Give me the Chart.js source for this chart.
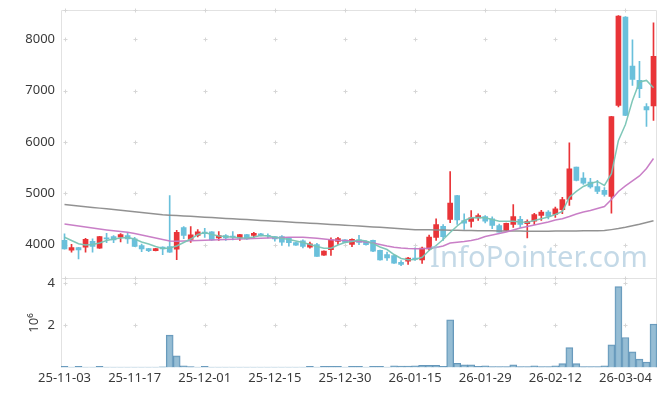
<!DOCTYPE html>
<html>
<head>
<meta charset="utf-8">
<script src="https://cdn.jsdelivr.net/npm/chart.js@4"></script>
<style>
html, body { margin: 0; padding: 0; background: #fff; }
#wrap { width: 665px; height: 396px; }
</style>
</head>
<body>
<div id="wrap"><canvas id="stockChart"></canvas></div>
<script>
const dates = [
    '25-11-03','25-11-04','25-11-05','25-11-06','25-11-07','25-11-10','25-11-11','25-11-12','25-11-13','25-11-14',
    '25-11-17','25-11-18','25-11-19','25-11-20','25-11-21','25-11-24','25-11-25','25-11-26','25-11-27','25-11-28',
    '25-12-01','25-12-02','25-12-03','25-12-04','25-12-05','25-12-08','25-12-09','25-12-10','25-12-11','25-12-12',
    '25-12-15','25-12-16','25-12-17','25-12-18','25-12-19','25-12-22','25-12-23','25-12-24','25-12-26','25-12-29',
    '25-12-30','26-01-02','26-01-05','26-01-06','26-01-07','26-01-08','26-01-09','26-01-12','26-01-13','26-01-14',
    '26-01-15','26-01-16','26-01-19','26-01-20','26-01-21','26-01-22','26-01-23','26-01-26','26-01-27','26-01-28',
    '26-01-29','26-01-30','26-02-02','26-02-03','26-02-04','26-02-05','26-02-06','26-02-09','26-02-10','26-02-11',
    '26-02-12','26-02-13','26-02-19','26-02-20','26-02-23','26-02-24','26-02-25','26-02-26','26-02-27','26-03-03',
    '26-03-04','26-03-05','26-03-06','26-03-09','26-03-10'
];

const opens = [
    4080, 3890, 3940, 3950, 4060, 3930, 4130, 4155, 4145, 4175,
    4110, 3980, 3920, 3880, 3950, 3960, 3910, 4330, 4100, 4175,
    4240, 4245, 4130, 4175, 4165, 4130, 4195, 4175, 4210, 4180,
    4155, 4155, 4125, 4040, 4070, 3950, 4000, 3790, 3900, 4060,
    4090, 4000, 4090, 4060, 4080, 3885, 3805, 3785, 3655, 3675,
    3735, 3700, 3915, 4140, 4355, 4490, 4955, 4468, 4450, 4520,
    4545, 4500, 4370, 4275, 4390, 4490, 4405, 4455, 4565, 4630,
    4585, 4680, 4880, 5510, 5295, 5215, 5130, 5055, 4935, 6710,
    8430, 7475, 7200, 6690, 6700
];
const highs = [
    4210, 4005, 3945, 4120, 4110, 4160, 4220, 4175, 4215, 4220,
    4140, 4010, 3925, 3925, 3955, 4955, 4275, 4350, 4350, 4290,
    4315, 4250, 4250, 4195, 4250, 4200, 4200, 4235, 4220, 4210,
    4160, 4175, 4130, 4045, 4090, 4045, 4025, 3875, 4130, 4140,
    4095, 4110, 4180, 4070, 4085, 3890, 3850, 3790, 3685, 3750,
    3935, 3950, 4185, 4500, 4390, 5420, 4960, 4600, 4660, 4600,
    4565, 4540, 4400, 4420, 4780, 4550, 4480, 4610, 4665, 4660,
    4730, 4920, 5980, 5510, 5400, 5290, 5250, 5110, 6500, 8460,
    8440, 7990, 7570, 6745, 8320
];
const lows = [
    3910, 3850, 3720, 3850, 3850, 3925, 4035, 4035, 4050, 4020,
    3960, 3860, 3860, 3875, 3800, 3845, 3705, 4115, 4040, 4150,
    4140, 4080, 4080, 4080, 4090, 4080, 4100, 4140, 4165, 4130,
    4065, 3980, 3970, 3980, 3935, 3930, 3770, 3785, 3785, 4000,
    4035, 3960, 3995, 3985, 3860, 3695, 3690, 3630, 3590, 3610,
    3690, 3630, 3885, 4080, 4080, 4425, 4390, 4295, 4340, 4470,
    4420, 4310, 4240, 4270, 4335, 4335, 4130, 4390, 4470, 4500,
    4530, 4600, 4760, 5240, 5170, 5100, 4990, 4940, 4610, 6680,
    6510, 7100, 6860, 6300, 6420
];
const closes = [
    3915, 3940, 3895, 4100, 3965, 4155, 4110, 4090, 4195, 4110,
    3965, 3915, 3880, 3920, 3915, 3850, 4235, 4175, 4190, 4245,
    4210, 4090, 4175, 4130, 4150, 4195, 4110, 4220, 4170, 4170,
    4110, 4045, 4035, 3985, 3965, 4015, 3770, 3870, 4090, 4115,
    4040, 4100, 4040, 3995, 3870, 3700, 3740, 3635, 3610, 3735,
    3715, 3930, 4145, 4390, 4155, 4805, 4480, 4415, 4520, 4565,
    4455, 4370, 4240, 4415, 4545, 4390, 4450, 4585, 4630, 4545,
    4695, 4875, 5475, 5250, 5195, 5120, 5035, 4975, 6495, 8450,
    6515, 7215, 7035, 6625, 7665
];

// volume, in millions of shares
const volumes = [
    0.05, 0.02, 0.05, 0.02, 0.02, 0.05, 0.02, 0.02, 0.02, 0.02,
    0.02, 0.02, 0.02, 0.02, 0.03, 1.53, 0.55, 0.08, 0.04, 0.02,
    0.05, 0.02, 0.02, 0.02, 0.02, 0.02, 0.02, 0.02, 0.02, 0.02,
    0.02, 0.02, 0.02, 0.02, 0.02, 0.05, 0.02, 0.05, 0.05, 0.05,
    0.02, 0.05, 0.05, 0.02, 0.05, 0.05, 0.02, 0.08, 0.07, 0.07,
    0.08, 0.10, 0.10, 0.10, 0.05, 2.26, 0.20, 0.13, 0.13, 0.05,
    0.08, 0.04, 0.04, 0.04, 0.13, 0.04, 0.04, 0.08, 0.04, 0.04,
    0.08, 0.18, 0.94, 0.18, 0.04, 0.04, 0.04, 0.08, 1.07, 3.83,
    1.42, 0.74, 0.40, 0.26, 2.06
];

const ma5 = [
    4142, 4078, 4014, 3990, 4000, 4029, 4078, 4107, 4127, 4137,
    4107, 4049, 4010, 3961, 3922, 3932, 3971, 4039, 4107, 4195,
    4234, 4195, 4166, 4156, 4142, 4130, 4127, 4146, 4175, 4166,
    4142, 4123, 4098, 4068, 4039, 4000, 3961, 3928, 3928, 3990,
    4039, 4058, 4088, 4068, 4020, 3951, 3902, 3805, 3727, 3702,
    3707, 3752, 3883, 3980, 4098, 4234, 4361, 4468, 4521, 4527,
    4521, 4488, 4454, 4454, 4454, 4439, 4435, 4468, 4501, 4536,
    4585, 4644, 4922, 5034, 5131, 5190, 5229, 5151, 5379, 6028,
    6340, 6808, 7169, 7198, 7056
];
const ma20 = [
    4400, 4380, 4361, 4341, 4322, 4302, 4283, 4267, 4254, 4240,
    4215, 4185, 4156, 4127, 4098, 4068, 4064, 4068, 4074, 4078,
    4082, 4088, 4094, 4098, 4103, 4107, 4113, 4117, 4121, 4127,
    4131, 4137, 4140, 4142, 4140, 4131, 4123, 4107, 4094, 4084,
    4078, 4068, 4058, 4049, 4029, 4000, 3971, 3947, 3932, 3922,
    3916, 3918, 3928, 3941, 3971, 4029, 4045, 4058, 4078, 4107,
    4156, 4185, 4215, 4244, 4283, 4322, 4351, 4380, 4410, 4439,
    4478, 4501, 4546, 4595, 4634, 4663, 4702, 4741, 4878, 5034,
    5141, 5238, 5336, 5482, 5677
];
const ma120 = [
    4780, 4766, 4752, 4737, 4723, 4709, 4695, 4680, 4666, 4652,
    4638, 4623, 4609, 4595, 4580, 4572, 4564, 4556, 4549, 4541,
    4533, 4525, 4517, 4509, 4501, 4494, 4486, 4478, 4470, 4462,
    4454, 4446, 4439, 4431, 4423, 4415, 4407, 4399, 4391, 4384,
    4376, 4368, 4360, 4351, 4342, 4334, 4325, 4316, 4307, 4299,
    4290, 4288, 4286, 4284, 4281, 4279, 4277, 4275, 4272, 4270,
    4268, 4266, 4264, 4263, 4262, 4261, 4260, 4260, 4260, 4260,
    4261, 4262, 4263, 4264, 4266, 4268, 4270, 4273, 4290, 4310,
    4335, 4365, 4395, 4430, 4462
];

const PRICE_TICKS = [4000, 5000, 6000, 7000, 8000];
const VOLUME_TICKS = [2, 4];

const UP_COLOR = 'rgb(233, 52, 56)';
const DOWN_COLOR = 'rgb(106, 192, 219)';
const MA5_COLOR = 'rgba(120, 196, 180, 0.95)';
const MA20_COLOR = 'rgba(198, 120, 196, 0.95)';
const MA120_COLOR = 'rgba(140, 140, 140, 0.95)';
const VOLUME_FILL = 'rgba(132, 178, 204, 0.85)';
const VOLUME_BORDER = 'rgba(84, 140, 178, 0.9)';
const FRAME_COLOR = '#e2e2e2';
const CROSS_COLOR = '#d6d6d6';
const TEXT_COLOR = '#3a3a3a';
const FONT_FAMILY = "'Noto Sans', 'Liberation Sans', sans-serif";

function candleColors() {
    return closes.map((c, i) => c >= opens[i] ? UP_COLOR : DOWN_COLOR);
}

function createLine(label, data, color) {
    return {
        type: 'line',
        label,
        data,
        yAxisID: 'y',
        borderColor: color,
        borderWidth: 1.5,
        pointRadius: 0,
        tension: 0,
        fill: false,
        order: 0
    };
}

function createCandleDataSets() {
    var colors = candleColors();
    var wicks = dates.map((d, i) => [lows[i], highs[i]]);
    var bodies = dates.map((d, i) => [opens[i], closes[i]]);
    return [
        {
            type: 'bar',
            label: 'body',
            data: bodies,
            yAxisID: 'y',
            backgroundColor: colors,
            barThickness: 5,
            grouped: false,
            order: 1
        },
        {
            type: 'bar',
            label: 'wick',
            data: wicks,
            yAxisID: 'y',
            backgroundColor: colors,
            barThickness: 1,
            grouped: false,
            order: 2
        }
    ];
}

function createVolumeDataSet() {
    return {
        type: 'bar',
        label: 'volume',
        data: volumes,
        yAxisID: 'v',
        backgroundColor: VOLUME_FILL,
        borderColor: VOLUME_BORDER,
        borderWidth: 1,
        barPercentage: 1,
        categoryPercentage: 1,
        grouped: false,
        order: 3
    };
}

function fixVerticalAxis(axis) {
    axis.width = 61;
    axis.paddingTop = 0;
    axis.paddingBottom = 0;
}

const panelDecor = {
    id: 'panelDecor',
    beforeDatasetsDraw(chart) {
        const {ctx, chartArea: a, scales} = chart;
        ctx.save();
        ctx.strokeStyle = FRAME_COLOR;
        ctx.lineWidth = 1;
        ctx.beginPath();
        ctx.moveTo(a.left + 0.5, a.bottom);
        ctx.lineTo(a.left + 0.5, a.top + 0.5);
        ctx.lineTo(a.right - 0.5, a.top + 0.5);
        ctx.lineTo(a.right - 0.5, a.bottom);
        var sep = Math.round(scales.y.bottom) + 0.5;
        ctx.moveTo(a.left, sep);
        ctx.lineTo(a.right, sep);
        ctx.stroke();

        var xs = [];
        dates.forEach((d, i) => { if (i % 10 === 0) xs.push(Math.round(scales.x.getPixelForValue(i)) + 0.5); });
        var ys = [a.top, scales.y.bottom];
        PRICE_TICKS.forEach(v => ys.push(scales.y.getPixelForValue(v)));
        VOLUME_TICKS.forEach(v => ys.push(scales.v.getPixelForValue(v)));
        ctx.strokeStyle = CROSS_COLOR;
        ctx.beginPath();
        xs.forEach(x => {
            ys.forEach(yv => {
                var y = Math.round(yv) + 0.5;
                ctx.moveTo(x - 2, y);
                ctx.lineTo(x + 2, y);
                ctx.moveTo(x, y - 2);
                ctx.lineTo(x, y + 2);
            });
        });
        ctx.stroke();
        ctx.restore();
    },
    afterDatasetsDraw(chart) {
        const ctx = chart.ctx;
        const text = 'InfoPointer.com';
        ctx.save();
        ctx.font = '30px ' + FONT_FAMILY;
        var size = 30 * 218 / ctx.measureText(text).width;
        ctx.font = size.toFixed(1) + 'px ' + FONT_FAMILY;
        ctx.fillStyle = 'rgba(165, 196, 218, 0.65)';
        ctx.textBaseline = 'alphabetic';
        ctx.fillText(text, 430, 267);
        ctx.restore();
    }
};

var ctx = document.getElementById('stockChart').getContext('2d');
new Chart(ctx, {
    type: 'bar',
    data: {
        labels: dates,
        datasets: [
            createLine('MA5', ma5, MA5_COLOR),
            createLine('MA20', ma20, MA20_COLOR),
            createLine('MA120', ma120, MA120_COLOR),
            ...createCandleDataSets(),
            createVolumeDataSet()
        ]
    },
    options: {
        responsive: true,
        maintainAspectRatio: false,
        animation: false,
        layout: {
            padding: { top: 10, right: 8, bottom: 0, left: 0 }
        },
        plugins: {
            legend: { display: false },
            tooltip: { enabled: false }
        },
        scales: {
            x: {
                type: 'category',
                offset: true,
                grid: { display: false, drawTicks: false },
                border: { display: false },
                ticks: {
                    autoSkip: false,
                    maxRotation: 0,
                    padding: 3,
                    color: TEXT_COLOR,
                    font: { family: FONT_FAMILY, size: 13 },
                    callback: (val, idx) => idx % 10 === 0 ? dates[idx] : ''
                },
                afterFit(axis) {
                    axis.height = 28.5;
                    axis.paddingLeft = 0;
                    axis.paddingRight = 0;
                }
            },
            y: {
                type: 'linear',
                position: 'left',
                stack: 'panels',
                stackWeight: 268,
                weight: 1,
                min: 3340,
                max: 8570,
                grid: { display: false, drawTicks: false },
                border: { display: false },
                ticks: {
                    padding: 6,
                    color: TEXT_COLOR,
                    font: { family: FONT_FAMILY, size: 13 },
                    callback: v => String(v)
                },
                afterBuildTicks(axis) { axis.ticks = PRICE_TICKS.map(v => ({ value: v })); },
                afterFit: fixVerticalAxis
            },
            v: {
                type: 'linear',
                position: 'left',
                stack: 'panels',
                stackWeight: 89,
                weight: 0,
                min: 0,
                max: 4.22,
                grid: { display: false, drawTicks: false },
                border: { display: false },
                title: {
                    display: true,
                    text: '10⁶',
                    color: TEXT_COLOR,
                    padding: { top: 26, bottom: 0 },
                    font: { family: FONT_FAMILY, size: 13 }
                },
                ticks: {
                    padding: 6,
                    color: TEXT_COLOR,
                    font: { family: FONT_FAMILY, size: 13 },
                    callback: v => String(v)
                },
                afterBuildTicks(axis) { axis.ticks = VOLUME_TICKS.map(v => ({ value: v })); },
                afterFit: fixVerticalAxis
            }
        }
    },
    plugins: [panelDecor]
});
</script>
</body>
</html>
